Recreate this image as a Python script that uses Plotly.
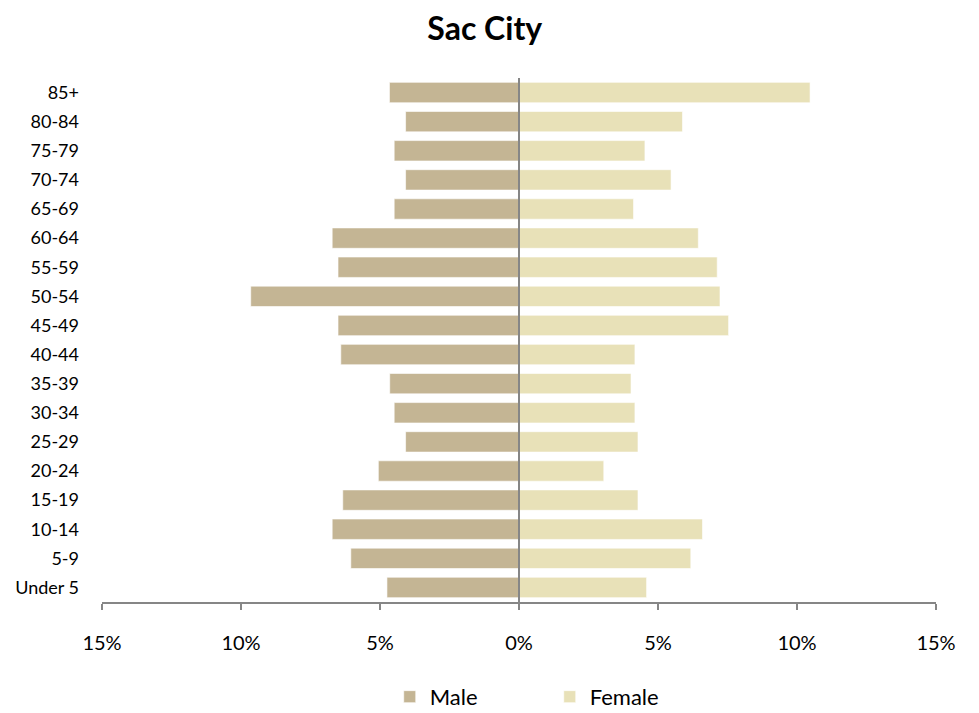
import plotly.graph_objects as go

age_groups = ["Under 5", "5-9", "10-14", "15-19", "20-24", "25-29", "30-34", "35-39",
              "40-44", "45-49", "50-54", "55-59", "60-64", "65-69", "70-74", "75-79",
              "80-84", "85+"]
male_pct = [4.75, 6.05, 6.72, 6.34, 5.06, 4.08, 4.49, 4.65,
            6.41, 6.51, 9.65, 6.51, 6.72, 4.49, 4.08, 4.49, 4.08, 4.66]
female_pct = [4.59, 6.18, 6.60, 4.28, 3.05, 4.28, 4.17, 4.03,
              4.17, 7.54, 7.23, 7.13, 6.45, 4.12, 5.47, 4.53, 5.88, 10.47]
tick_vals = [-15, -10, -5, 0, 5, 10, 15]
tick_text = ["15%", "10%", "5%", "0%", "5%", "10%", "15%"]

MALE_COLOR = "#C4B594"
FEMALE_COLOR = "#E8E1B8"
AXIS_COLOR = "#868686"
FONT = "Lato, Carlito, Calibri, sans-serif"

fig = go.Figure()
fig.add_trace(go.Bar(
    y=age_groups, x=[-v for v in male_pct], orientation="h", name="Male",
    marker=dict(color=MALE_COLOR, line=dict(color="rgba(255,255,255,0.6)", width=1)),
))
fig.add_trace(go.Bar(
    y=age_groups, x=female_pct, orientation="h", name="Female",
    marker=dict(color=FEMALE_COLOR, line=dict(color="rgba(255,255,255,0.6)", width=1)),
))

fig.add_shape(type="line", xref="x", yref="paper", x0=0, x1=0, y0=0, y1=1,
              line=dict(color=AXIS_COLOR, width=2), layer="above")

fig.update_layout(
    width=971, height=705,
    paper_bgcolor="white", plot_bgcolor="white",
    margin=dict(l=94, r=43, t=70, b=111, autoexpand=False),
    barmode="overlay", bargap=0.3,
    font=dict(family=FONT, size=18, color="#000000"),
    title=dict(text="<b>Sac City</b>", x=0.491, xanchor="center", y=0.97, yanchor="middle",
               font=dict(family=FONT, size=32, color="#000000")),
    xaxis=dict(range=[-15, 15], tickvals=tick_vals, ticktext=tick_text,
               showgrid=False, zeroline=False, showline=True, linecolor=AXIS_COLOR, linewidth=2,
               ticks="outside", ticklen=6, tickcolor=AXIS_COLOR, tickwidth=1.5,
               ticklabelstandoff=16, tickfont=dict(size=20), fixedrange=True),
    yaxis=dict(showgrid=False, zeroline=False, showline=False, ticks="",
               ticklabelstandoff=22, tickfont=dict(size=18),
               categoryorder="array", categoryarray=age_groups, fixedrange=True),
    legend=dict(orientation="h", x=0.345, xanchor="left", y=-0.181, yanchor="middle",
                entrywidth=115, entrywidthmode="pixels", font=dict(size=22),
                traceorder="normal"),
    showlegend=True,
)

fig.write_html("out.html")
